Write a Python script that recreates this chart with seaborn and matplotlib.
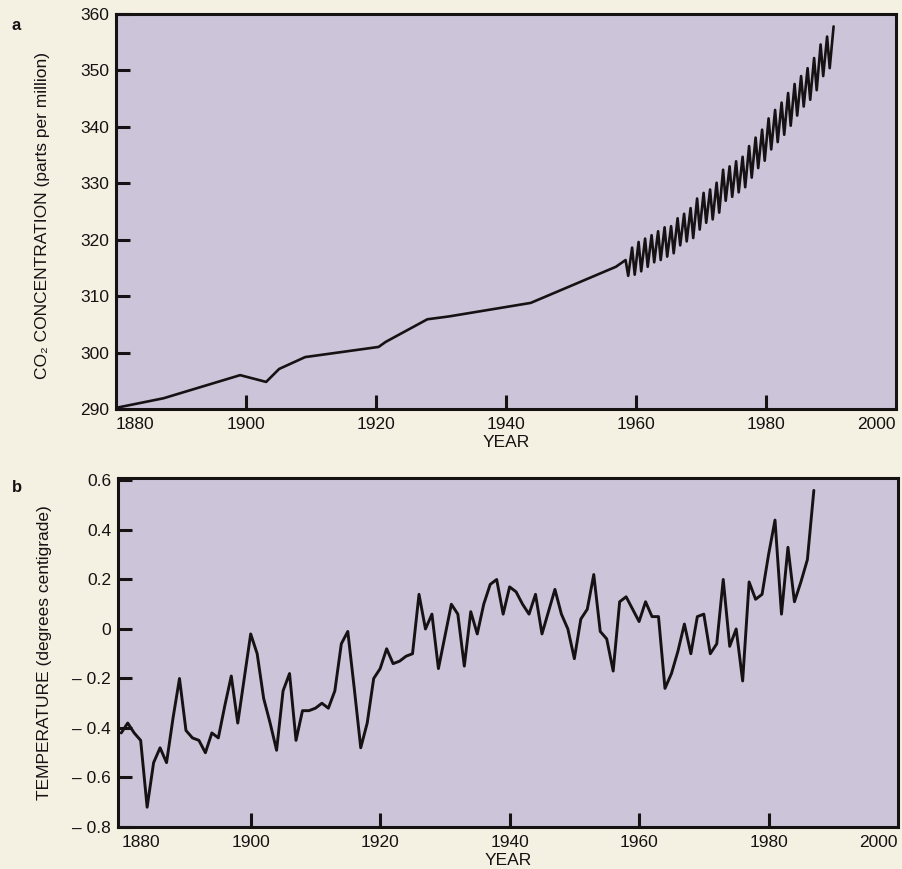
import matplotlib
matplotlib.use("Agg")
import matplotlib.pyplot as plt
import seaborn as sns
import pandas as pd

# ---------------- data ----------------
# panel a: pre-1958 CO2 record (ice core / early measurements)
co2_early_years = [1880, 1887.3, 1899.1, 1903.1, 1905.1, 1909.1, 1920.4, 1921.5, 1927.9, 1931.2, 1943.8, 1956.9, 1958.4]
co2_early_ppm = [290.2, 291.9, 296.0, 294.8, 297.1, 299.2, 301.0, 301.9, 305.9, 306.4, 308.8, 315.2, 316.4]

# panel a: Mauna Loa seasonal extremes
mlo_trough_years = list(range(1958, 1990))
mlo_trough_ppm = [313.6, 313.8, 314.4, 315.2, 316.0, 316.4, 317.0, 317.6, 319.0, 319.7,
                  320.3, 321.8, 323.0, 323.6, 324.8, 326.9, 327.6, 328.4, 329.3, 331.0,
                  332.7, 334.0, 336.0, 337.3, 338.6, 340.2, 342.0, 343.6, 344.8, 346.5,
                  349.0, 350.4]
mlo_peak_years = list(range(1959, 1991))
mlo_peak_ppm = [318.6, 319.6, 320.2, 320.8, 321.5, 322.2, 322.4, 323.8, 324.6, 325.6,
                327.3, 328.3, 328.9, 330.1, 332.4, 333.0, 333.9, 334.7, 336.6, 338.1,
                339.5, 341.5, 343.0, 344.3, 346.0, 347.6, 349.0, 350.4, 352.2, 354.6,
                356.0, 357.8]

# panel b: global temperature anomaly
temp_years = list(range(1880, 1988))
temp_anom = [-0.42, -0.38, -0.42, -0.45, -0.72, -0.54, -0.48, -0.54, -0.36, -0.20,
             -0.41, -0.44, -0.45, -0.50, -0.42, -0.44, -0.31, -0.19, -0.38, -0.20,
             -0.02, -0.10, -0.28, -0.38, -0.49, -0.25, -0.18, -0.45, -0.33, -0.33,
             -0.32, -0.30, -0.32, -0.25, -0.06, -0.01, -0.24, -0.48, -0.38, -0.20,
             -0.16, -0.08, -0.14, -0.13, -0.11, -0.10, 0.14, 0.00, 0.06, -0.16,
             -0.03, 0.10, 0.06, -0.15, 0.07, -0.02, 0.10, 0.18, 0.20, 0.06,
             0.17, 0.15, 0.10, 0.06, 0.14, -0.02, 0.07, 0.16, 0.06, 0.00,
             -0.12, 0.04, 0.08, 0.22, -0.01, -0.04, -0.17, 0.11, 0.13, 0.08,
             0.03, 0.11, 0.05, 0.05, -0.24, -0.18, -0.09, 0.02, -0.10, 0.05,
             0.06, -0.10, -0.06, 0.20, -0.07, 0.00, -0.21, 0.19, 0.12, 0.14,
             0.30, 0.44, 0.06, 0.33, 0.11, 0.19, 0.28, 0.56]

year_ticks = [1880, 1900, 1920, 1940, 1960, 1980, 2000]
co2_ticks = [290, 300, 310, 320, 330, 340, 350, 360]
temp_ticks = [-0.8, -0.6, -0.4, -0.2, 0, 0.2, 0.4, 0.6]
temp_tick_labels = ["\u2013 0.8", "\u2013 0.6", "\u2013 0.4", "\u2013 0.2", "0", "0.2", "0.4", "0.6"]

# ---------------- build tables ----------------
rows = [(y, v) for y, v in zip(co2_early_years, co2_early_ppm)]
for i in range(len(mlo_trough_years)):
    rows.append((mlo_trough_years[i] + 0.8, mlo_trough_ppm[i]))
    rows.append((mlo_peak_years[i] + 0.4, mlo_peak_ppm[i]))
co2_df = pd.DataFrame(rows, columns=["year", "ppm"])
temp_df = pd.DataFrame({"year": temp_years, "anom": temp_anom})

# ---------------- style ----------------
sns.set_theme(style="white")
plt.rcParams["font.family"] = ["Liberation Sans", "DejaVu Sans"]
FIG_BG = "#f4f1e2"
AX_BG = "#ccc5d9"
INK = "#161214"

fig = plt.figure(figsize=(9.02, 8.69), dpi=100)
fig.patch.set_facecolor(FIG_BG)

W, H = 902, 869
axa = fig.add_axes([116 / W, 1 - 409 / H, 780 / W, 395 / H])
axb = fig.add_axes([118 / W, 1 - 827 / H, 780 / W, 349 / H])

sns.lineplot(data=co2_df, x="year", y="ppm", ax=axa, sort=False, estimator=None,
             color=INK, linewidth=1.9)
sns.lineplot(data=temp_df, x="year", y="anom", ax=axb, sort=False, estimator=None,
             color=INK, linewidth=2.1)

for ax in (axa, axb):
    ax.set_facecolor(AX_BG)
    for s in ax.spines.values():
        s.set_visible(True)
        s.set_color(INK)
        s.set_linewidth(2.2)
    ax.tick_params(axis="both", direction="in", length=10, width=2.2, color=INK,
                   labelsize=12.5, labelcolor=INK, left=True, bottom=True,
                   top=False, right=False)
    ax.tick_params(axis="y", pad=5)
    ax.tick_params(axis="x", pad=6)
    ax.set_xticks(year_ticks, [str(t) for t in year_ticks])
    labs = ax.get_xticklabels()
    labs[0].set_ha("left")
    labs[-1].set_ha("right")
    ax.set_xlabel("YEAR", fontsize=12.5, color=INK, labelpad=2)

axa.set_xlim(1880, 2000)
axa.set_ylim(290, 360)
axa.set_yticks(co2_ticks, [str(t) for t in co2_ticks])
axa.set_ylabel("CO\u2082 CONCENTRATION (parts per million)", fontsize=12.5, color=INK)
axa.yaxis.set_label_coords(-0.085, 0.49)

axb.set_xlim(1879.5, 2000)
axb.set_ylim(-0.79, 0.61)
axb.set_yticks(temp_ticks, temp_tick_labels)
axb.set_ylabel("TEMPERATURE (degrees centigrade)", fontsize=12.5, color=INK)
axb.yaxis.set_label_coords(-0.085, 0.5)

# edge ticks coincide with the frame in the original: hide their marks
for ax in (axa, axb):
    xt = ax.xaxis.get_major_ticks()
    xt[0].tick1line.set_visible(False)
    xt[-1].tick1line.set_visible(False)

fig.text(12 / W, 1 - 30 / H, "a", fontsize=12, fontweight="bold", color=INK)
fig.text(12 / W, 1 - 492 / H, "b", fontsize=12, fontweight="bold", color=INK)

fig.savefig("out.png", dpi=100, facecolor=FIG_BG)
